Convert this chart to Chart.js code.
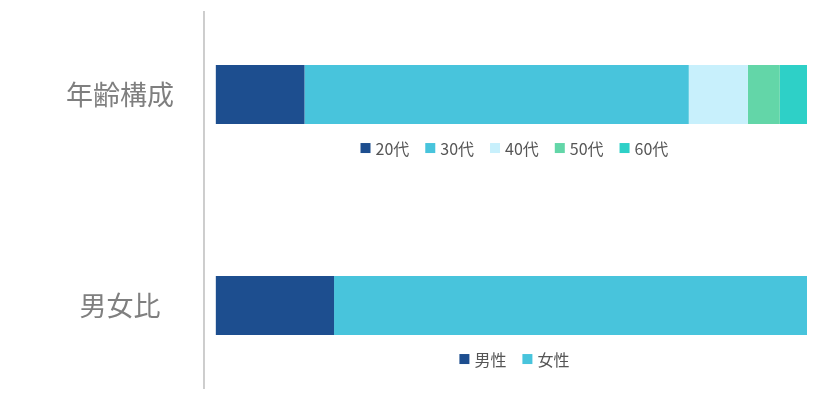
<!DOCTYPE html>
<html>
<head>
<meta charset="utf-8">
<script src="https://cdn.jsdelivr.net/npm/chart.js@4"></script>
<style>
  html, body { margin: 0; padding: 0; background: #fff; }
  #wrap { width: 827px; height: 413px; }
</style>
</head>
<body>
<div id="wrap"><canvas id="chart"></canvas></div>
<script>
const FONT = '"Noto Sans CJK JP", "Noto Sans", sans-serif';

const categories = ['年齢構成', '男女比'];
const ageLabels = ['20代', '30代', '40代', '50代', '60代'];
const ageValues = [15, 65, 10, 5.4, 4.6];
const ageColors = ['#1d4e8f', '#48c4dc', '#c8f0fc', '#63d6a8', '#2ed0c7'];
const genderLabels = ['男性', '女性'];
const genderValues = [20, 80];
const genderColors = ['#1d4e8f', '#48c4dc'];

const $chart = document.querySelector('#chart');
const context = $chart.getContext('2d');

function makeDatasets(labels, values, colors, row, group) {
  return labels.map((label, i) => ({
    label,
    group,
    data: categories.map((c, r) => (r === row ? values[i] : null)),
    backgroundColor: colors[i],
    borderWidth: 0,
    barPercentage: 0.28,
    categoryPercentage: 1,
    clip: false
  }));
}

const datasets = [
  ...makeDatasets(ageLabels, ageValues, ageColors, 0, 'age'),
  ...makeDatasets(genderLabels, genderValues, genderColors, 1, 'gender')
];

// vertical axis line, a bit longer than the category span
const axisLine = {
  id: 'axisLine',
  beforeDatasetsDraw(chart) {
    const { ctx, chartArea } = chart;
    ctx.save();
    ctx.strokeStyle = '#bdbdbd';
    ctx.lineWidth = 1.5;
    ctx.beginPath();
    ctx.moveTo(chartArea.left, chartArea.top - 83.5);
    ctx.lineTo(chartArea.left, chartArea.bottom + 83.5);
    ctx.stroke();
    ctx.restore();
  }
};

// legend drawn under each bar
const rowLegends = {
  id: 'rowLegends',
  afterDatasetsDraw(chart) {
    const ctx = chart.ctx;
    const groups = ['age', 'gender'];
    ctx.save();
    ctx.font = '16px ' + FONT;
    ctx.textBaseline = 'middle';
    groups.forEach((group, row) => {
      const idx = chart.data.datasets
        .map((ds, i) => (ds.group === group ? i : -1))
        .filter((i) => i >= 0);
      const bar = chart.getDatasetMeta(idx[0]).data[row];
      const box = 10, gapText = 5, gapItem = 16;
      const widths = idx.map((i) => box + gapText + ctx.measureText(chart.data.datasets[i].label).width);
      const total = widths.reduce((a, b) => a + b, 0) + gapItem * (idx.length - 1);
      const x0 = chart.scales.x.getPixelForValue(0);
      const x1 = chart.scales.x.getPixelForValue(100);
      let x = (x0 + x1) / 2 + 3 - total / 2;
      const y = bar.y + bar.height / 2 + 24;
      idx.forEach((i, k) => {
        const ds = chart.data.datasets[i];
        ctx.fillStyle = ds.backgroundColor;
        ctx.fillRect(x, y - box / 2, box, box);
        ctx.fillStyle = '#555555';
        ctx.textAlign = 'left';
        ctx.fillText(ds.label, x + box + gapText, y + 1);
        x += widths[k] + gapItem;
      });
    });
    ctx.restore();
  }
};

new Chart(context, {
  type: 'bar',
  data: { labels: categories, datasets },
  options: {
    indexAxis: 'y',
    responsive: true,
    maintainAspectRatio: false,
    animation: false,
    layout: { padding: { top: 94.5, bottom: 107.5, right: 20, left: 36 } },
    plugins: {
      legend: { display: false },
      tooltip: { enabled: false }
    },
    scales: {
      x: {
        type: 'linear',
        stacked: true,
        min: -2,
        max: 100,
        display: false
      },
      y: {
        type: 'category',
        stacked: true,
        offset: false,
        grid: { display: false, drawTicks: false },
        border: { display: false },
        ticks: {
          padding: 30,
          crossAlign: 'center',
          color: '#7f7f7f',
          font: { family: FONT, size: 27 }
        }
      }
    }
  },
  plugins: [axisLine, rowLegends]
});
</script>
</body>
</html>
